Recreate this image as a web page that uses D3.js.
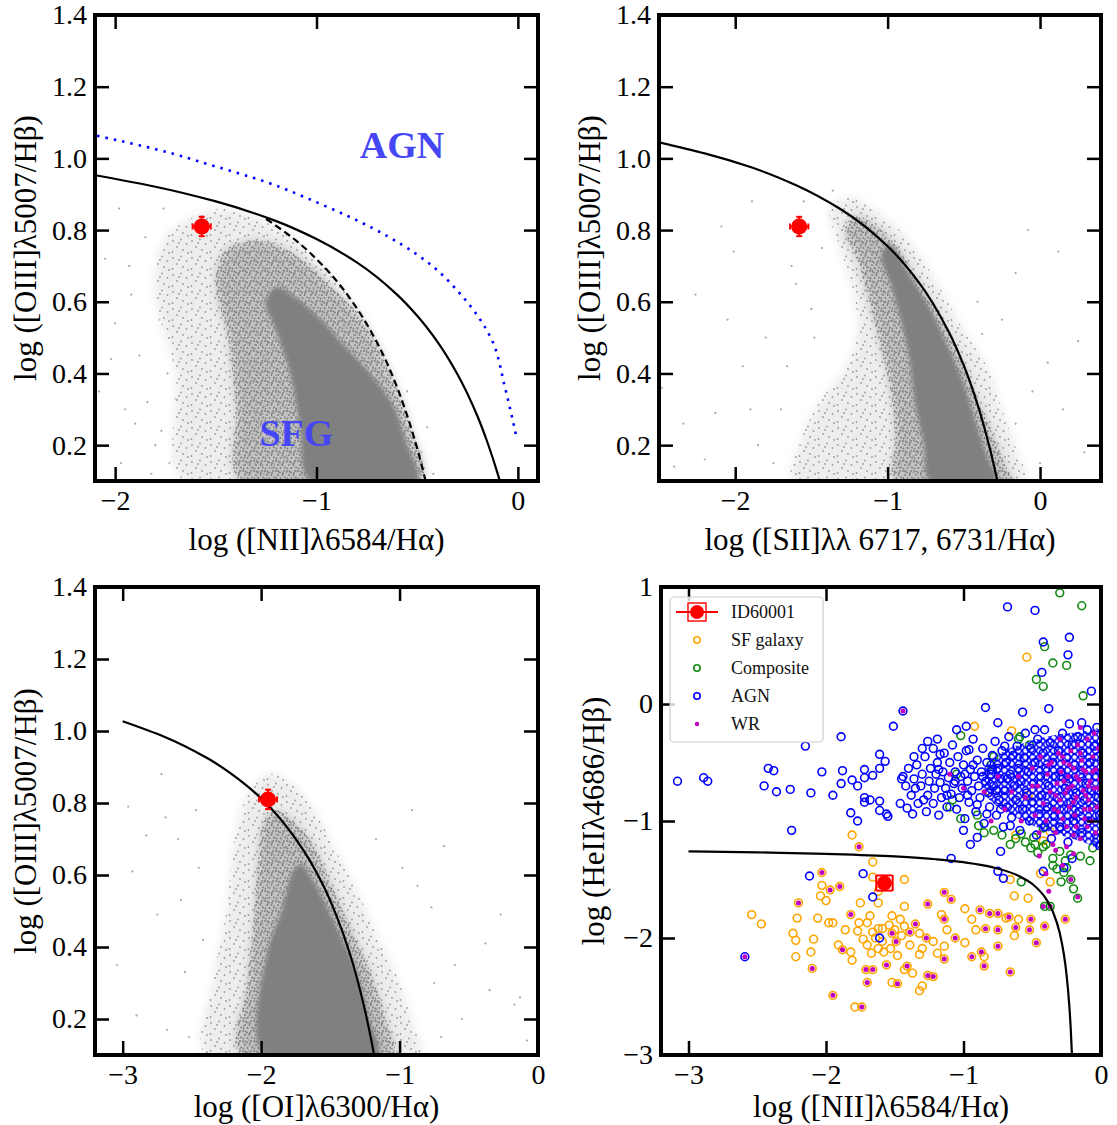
<!DOCTYPE html>
<html lang="en">
<head>
<meta charset="UTF-8">
<title>BPT and HeII diagrams</title>
<script src="https://d3js.org/d3.v7.min.js"></script>
<style>
  body { margin: 0; background: #fff; overflow: hidden; }
  text { font-family: "Liberation Serif", "Times New Roman", serif; }
</style>
</head>
<body>
<svg class="fig"></svg>
<script>
// ---------------- data ----------------
const o3Ticks = [0.2, 0.4, 0.6, 0.8, 1.0, 1.2, 1.4];
const niiTicks = [-2, -1, 0];
const siiTicks = [-2, -1, 0];
const oiTicks = [-3, -2, -1, 0];
const heTicksX = [-3, -2, -1, 0];
const heTicksY = [1, 0, -1, -2, -3];

// demarcation curves
const niiKewley = [[-2.1,0.953],[-1.8,0.921],[-1.5,0.880],[-1.2,0.825],[-1.0,0.775],[-0.8,0.710],[-0.6,0.620],[-0.5,0.561],[-0.4,0.489],[-0.3,0.398],[-0.2,0.280],[-0.15,0.206],[-0.1,0.120],[-0.09,0.101]];
const niiKauff = [[-1.25,0.831],[-1.1,0.770],[-1.0,0.719],[-0.9,0.658],[-0.8,0.582],[-0.7,0.487],[-0.6,0.362],[-0.55,0.283],[-0.5,0.191],[-0.46,0.104]];
const niiDotted = [[-2.09,1.063],[-1.78,1.023],[-1.51,0.979],[-1.25,0.934],[-0.985,0.874],[-0.72,0.805],[-0.45,0.711],[-0.28,0.618],[-0.134,0.499],[-0.064,0.361],[-0.01,0.23]];
const siiKewley = [[-2.5,1.045],[-2.2,1.014],[-1.9,0.976],[-1.6,0.925],[-1.3,0.856],[-1.0,0.755],[-0.8,0.657],[-0.6,0.517],[-0.5,0.422],[-0.4,0.300],[-0.35,0.225],[-0.3,0.139],[-0.28,0.10]];
const oiKewley = [[-3.0,1.027],[-2.7,0.984],[-2.4,0.927],[-2.1,0.847],[-1.9,0.773],[-1.7,0.672],[-1.55,0.570],[-1.45,0.481],[-1.35,0.370],[-1.3,0.302],[-1.25,0.224],[-1.2,0.133],[-1.184,0.10]];
const heiiLine = [[-3,-1.259],[-2.5,-1.268],[-2,-1.281],[-1.5,-1.303],[-1.2,-1.327],[-1,-1.352],[-0.8,-1.392],[-0.6,-1.468],[-0.5,-1.538],[-0.4,-1.665],[-0.35,-1.775],[-0.3,-1.957],[-0.27,-2.139],[-0.25,-2.319],[-0.23,-2.587],[-0.22,-2.778],[-0.21,-3.03]];

// galaxy cloud density outlines (light, medium, solid) and scattered points
const niiHalo = [[-1.66,0.1],[-1.7,0.4],[-1.8,0.62],[-1.76,0.77],[-1.6,0.84],[-1.45,0.86],[-1.28,0.83],[-1.1,0.77],[-1.0,0.72],[-0.9,0.66],[-0.8,0.58],[-0.7,0.49],[-0.6,0.36],[-0.5,0.19],[-0.46,0.1]];
const niiMid = [[-1.38,0.1],[-1.4,0.3],[-1.44,0.5],[-1.5,0.65],[-1.46,0.74],[-1.32,0.77],[-1.2,0.76],[-1.05,0.71],[-0.92,0.64],[-0.8,0.57],[-0.7,0.48],[-0.61,0.37],[-0.54,0.26],[-0.48,0.1]];
const niiCore = [[-1.03,0.1],[-1.08,0.25],[-1.13,0.4],[-1.2,0.52],[-1.25,0.6],[-1.2,0.64],[-1.1,0.61],[-0.98,0.55],[-0.85,0.47],[-0.72,0.39],[-0.62,0.31],[-0.55,0.2],[-0.5,0.1]];
const niiSparse = [[-2.05,0.72],[-2.0,0.54],[-1.98,0.86],[-1.95,0.3],[-1.92,0.62],[-1.9,0.26],[-1.88,0.45],[-1.85,0.78],[-1.84,0.32],[-1.8,0.2],[-1.78,0.55],[-1.76,0.86],[-1.74,0.4],[-1.73,0.15],[-1.72,0.68],[-1.7,0.33],[-1.68,0.5],[-1.66,0.2],[-1.65,0.77],[-1.63,0.6],[-1.61,0.28],[-1.6,0.42],[-1.57,0.12],[-1.56,0.7],[-1.54,0.36],[-1.52,0.55],[-1.5,0.2],[-1.48,0.8],[-1.46,0.45],[-1.44,0.28],[-1.42,0.62],[-1.4,0.15],[-1.38,0.4],[-1.36,0.8],[-1.33,0.22],[-1.3,0.58],[-1.27,0.33],[-1.22,0.79],[-1.18,0.16],[-1.15,0.7],[-1.1,0.74],[-0.95,0.68],[-0.85,0.6],[-0.75,0.52],[-0.45,0.25],[-0.42,0.12],[-0.55,0.35],[-0.48,0.18],[-2.08,0.35],[-1.97,0.15],[-2.02,0.44],[-1.93,0.7],[-1.82,0.12],[-1.77,0.24],[-1.69,0.62],[-1.62,0.15],[-1.58,0.52],[-1.53,0.78]];
const siiHalo = [[-1.62,0.1],[-1.58,0.2],[-1.45,0.32],[-1.3,0.4],[-1.2,0.5],[-1.22,0.62],[-1.32,0.76],[-1.38,0.86],[-1.25,0.89],[-1.1,0.86],[-0.9,0.79],[-0.7,0.67],[-0.5,0.52],[-0.35,0.42],[-0.25,0.3],[-0.15,0.18],[-0.1,0.1]];
const siiMid = [[-0.95,0.1],[-0.95,0.22],[-0.98,0.35],[-1.05,0.48],[-1.12,0.6],[-1.2,0.72],[-1.28,0.8],[-1.22,0.84],[-1.1,0.82],[-0.95,0.76],[-0.8,0.66],[-0.65,0.55],[-0.5,0.43],[-0.4,0.32],[-0.3,0.22],[-0.2,0.12],[-0.17,0.1]];
const siiCore = [[-0.72,0.1],[-0.76,0.2],[-0.82,0.32],[-0.86,0.45],[-0.92,0.56],[-0.98,0.65],[-1.04,0.73],[-0.98,0.76],[-0.88,0.69],[-0.72,0.58],[-0.6,0.47],[-0.5,0.37],[-0.42,0.26],[-0.35,0.17],[-0.29,0.1]];
const siiSparse = [[-2.09,0.81],[-2.01,0.74],[-2.26,0.62],[-2.48,0.36],[-2.34,0.26],[-2.13,0.29],[-1.89,0.88],[-1.63,0.70],[-1.6,0.65],[-1.43,0.75],[-1.36,0.91],[-1.8,0.5],[-1.95,0.42],[-1.7,0.3],[-2.2,0.16],[-1.85,0.2],[-1.5,0.58],[-2.4,0.14],[-0.08,0.80],[0.12,0.74],[-0.16,0.68],[0.25,0.49],[0.05,0.43],[-0.16,0.26],[0.29,0.18],[-0.41,0.60],[-0.38,0.51],[-0.29,0.29],[0.0,0.15],[-0.05,0.35],[0.15,0.3],[-0.25,0.55],[-1.75,0.15],[-1.9,0.3],[-1.66,0.42],[-1.48,0.5],[-1.55,0.88],[-2.05,0.55]];
const oiHalo = [[-2.4,0.1],[-2.35,0.3],[-2.25,0.5],[-2.2,0.68],[-2.1,0.82],[-1.95,0.88],[-1.8,0.86],[-1.62,0.78],[-1.45,0.66],[-1.3,0.55],[-1.15,0.42],[-1.0,0.3],[-0.9,0.18],[-0.85,0.1]];
const oiMid = [[-2.15,0.1],[-2.1,0.3],[-2.05,0.5],[-2.02,0.65],[-1.98,0.75],[-1.9,0.78],[-1.8,0.76],[-1.65,0.7],[-1.5,0.58],[-1.35,0.45],[-1.2,0.32],[-1.1,0.2],[-1.05,0.1]];
const oiCore = [[-1.98,0.1],[-1.95,0.39],[-1.85,0.5],[-1.78,0.6],[-1.72,0.63],[-1.62,0.58],[-1.45,0.45],[-1.31,0.33],[-1.22,0.2],[-1.16,0.1]];
const oiSparse = [[-2.72,0.88],[-2.96,0.79],[-2.83,0.71],[-2.93,0.61],[-3.04,0.35],[-2.9,0.21],[-2.69,0.76],[-2.47,0.78],[-2.58,0.53],[-2.75,0.49],[-2.68,0.17],[-2.32,0.25],[-2.55,0.33],[-2.45,0.62],[-0.38,0.41],[-0.27,0.49],[-0.17,0.24],[-0.35,0.28],[-0.13,0.26],[-0.6,0.35],[-0.68,0.68],[-0.91,0.78],[-0.77,0.51],[-1.17,0.70],[-0.87,0.57],[-0.08,0.14],[-0.55,0.2],[-0.75,0.3],[-2.6,0.7],[-2.52,0.15],[-2.42,0.42],[-0.98,0.62],[-0.7,0.15]];

// the object ID60001: x, y, xerr, yerr
const niiObj = [-1.57, 0.81, 0.045, 0.027];
const siiObj = [-1.58, 0.81, 0.06, 0.027];
const oiObj = [-1.95, 0.81, 0.065, 0.027];
const heObj = [-1.575, -1.53, 0.06, 0.065];

// HeII diagram samples
const sfGal = [[-0.54,0.40],[-0.92,-0.19],[-0.65,-0.23],[-0.81,-0.75],[-0.53,-0.78],[-0.37,-1.09],[-0.62,-1.12],[-0.42,-1.17],[-1.81,-1.12],[-1.76,-1.22],[-1.66,-1.35],[-1.66,-1.48],[-1.43,-1.50],[-1.62,-1.60],[-1.62,-1.70],[-0.66,-1.50],[-0.63,-1.64],[-0.53,-1.66],[-0.44,-1.45],[-0.37,-1.52],[-2.03,-1.44],[-2.03,-1.55],[-2.04,-1.64],[-2.00,-1.68],[-1.97,-1.59],[-1.90,-1.56],[-2.20,-1.70],[-2.21,-1.83],[-2.06,-1.83],[-1.98,-1.87],[-1.95,-1.87],[-2.54,-1.80],[-2.47,-1.88],[-2.24,-1.96],[-2.22,-2.02],[-2.09,-2.01],[-2.22,-2.16],[-2.11,-2.12],[-2.10,-2.26],[-1.95,-2.49],[-1.79,-2.59],[-1.74,-2.59],[-1.86,-1.93],[-1.82,-1.80],[-1.76,-1.87],[-1.75,-1.70],[-1.68,-1.81],[-1.91,-2.06],[-1.88,-2.10],[-1.82,-2.12],[-1.81,-2.19],[-1.77,-1.94],[-1.73,-2.01],[-1.70,-2.06],[-1.71,-2.27],[-1.66,-2.27],[-1.70,-2.38],[-1.64,-2.00],[-1.59,-1.92],[-1.52,-1.96],[-1.58,-2.12],[-1.56,-2.23],[-1.52,-1.81],[-1.46,-1.84],[-1.43,-1.73],[-1.43,-1.90],[-1.39,-1.95],[-1.39,-2.06],[-1.49,-2.03],[-1.48,-2.15],[-1.43,-2.27],[-1.52,-2.38],[-1.48,-2.39],[-1.41,-2.24],[-1.37,-2.30],[-1.32,-2.45],[-1.30,-2.41],[-1.32,-2.14],[-1.35,-1.88],[-1.32,-1.96],[-1.30,-2.09],[-1.27,-2.00],[-1.22,-2.03],[-1.26,-2.32],[-1.22,-2.33],[-1.26,-1.71],[-1.19,-2.13],[-1.14,-2.07],[-1.16,-1.80],[-1.14,-1.84],[-1.12,-1.93],[-1.14,-2.18],[-1.14,-1.61],[-1.09,-1.67],[-1.06,-2.00],[-0.99,-1.75],[-0.99,-2.04],[-0.94,-1.84],[-0.94,-2.16],[-0.91,-1.93],[-0.87,-2.12],[-0.85,-2.16],[-0.85,-2.24],[-0.88,-1.76],[-0.84,-1.92],[-0.81,-1.79],[-0.75,-1.79],[-0.75,-1.93],[-0.75,-2.07],[-0.69,-1.83],[-0.67,-1.82],[-0.62,-1.91],[-0.60,-1.84],[-0.63,-1.98],[-0.66,-2.29],[-0.52,-1.93],[-0.51,-1.84],[-0.47,-2.04],[-0.41,-1.90],[-0.26,-1.84],[-1.66,-1.95],[-1.62,-1.92],[-1.59,-2.03],[-1.54,-1.89],[-1.50,-1.93],[-1.45,-1.98],[-1.62,-2.09],[-1.67,-2.13],[-1.53,-2.09],[-1.70,-1.87]];
const composite = [[-0.30,0.95],[-0.14,0.84],[-0.41,0.49],[-0.35,0.35],[-0.25,0.33],[-0.47,0.21],[-0.42,0.15],[-0.13,0.07],[-1.02,-0.27],[-0.59,-0.28],[-0.78,-0.45],[-0.51,-1.23],[-0.46,-1.27],[-0.40,-1.20],[-0.35,-1.32],[-0.30,-1.26],[-0.26,-1.34],[-0.22,-1.29],[-0.08,-1.34],[-0.32,-1.41],[-0.27,-1.44],[-0.22,-1.50],[-0.29,-1.52],[-0.58,-1.52],[-0.20,-1.58],[-0.17,-1.66],[-0.41,-1.73],[-0.37,-1.73],[-0.66,-1.20],[-0.72,-1.12],[-0.78,-1.08],[-0.89,-1.04],[-1.02,-0.98],[-1.08,-0.82],[-0.06,-1.23],[-0.58,-1.11],[-0.49,-1.14],[-0.42,-1.06],[-1.10,-0.88],[-0.90,-0.95],[-0.85,-1.10],[-0.62,-1.15],[-0.55,-1.18],[-0.48,-1.20],[-1.05,-0.60],[-0.80,-0.52],[-0.60,-0.30],[-0.52,-0.35],[-0.42,-1.22],[-0.35,-1.38],[-0.25,-1.40],[-0.15,-1.30]];
const agn = [[-0.68,0.83],[-0.48,0.80],[-0.42,0.53],[-0.23,0.57],[-0.24,0.42],[-0.43,0.27],[-0.07,0.11],[-1.44,-0.06],[-0.84,-0.03],[-0.57,-0.07],[-0.38,-0.04],[-1.51,-0.19],[-1.89,-0.28],[-2.15,-0.36],[-2.42,-0.55],[-2.38,-0.57],[-3.08,-0.66],[-2.89,-0.63],[-2.86,-0.66],[-2.45,-0.70],[-2.36,-0.75],[-2.26,-0.73],[-2.03,-0.58],[-2.11,-0.76],[-1.95,-0.78],[-1.88,-0.57],[-1.89,-0.68],[-1.81,-0.65],[-1.77,-0.70],[-1.72,-0.56],[-1.72,-0.63],[-1.66,-0.61],[-1.61,-0.55],[-1.57,-0.49],[-1.61,-0.43],[-1.72,-0.80],[-1.72,-0.84],[-1.68,-0.82],[-1.61,-0.83],[-1.82,-0.93],[-1.77,-1.00],[-1.61,-0.91],[-1.56,-0.94],[-1.55,-0.96],[-2.25,-1.08],[-1.46,-0.85],[-1.41,-0.89],[-1.37,-0.94],[-1.45,-0.64],[-1.36,-0.45],[-1.30,-0.38],[-1.26,-0.32],[-1.19,-0.30],[-1.17,-0.43],[-1.05,-0.22],[-0.98,-0.19],[-0.96,-0.39],[-1.09,-1.32],[-0.75,-0.16],[-0.48,-0.22],[-0.41,-0.22],[-0.23,-0.17],[-0.14,-0.16],[-0.03,-0.20],[-0.75,-1.43],[-0.71,-1.49],[-0.73,-1.26],[-0.95,-1.20],[-0.90,-1.14],[-1.00,-1.08],[-1.66,-1.65],[-1.73,-1.45],[-2.12,-1.47],[-0.42,-1.43],[-0.27,-1.40],[-0.21,-1.32],[-0.01,-1.21],[-2.59,-2.16],[-1.61,-2.00],
  [-1.44,-0.62],[-1.42,-0.7],[-1.4,-0.55],[-1.38,-0.78],[-1.36,-0.64],[-1.34,-0.52],[-1.33,-0.85],[-1.31,-0.7],[-1.3,-0.6],[-1.28,-0.45],[-1.27,-0.92],[-1.26,-0.78],[-1.25,-0.66],[-1.24,-0.55],[-1.22,-0.38],[-1.22,-0.85],[-1.21,-0.72],[-1.2,-0.6],
  [-1.19,-0.5],[-1.18,-0.95],[-1.17,-0.67],[-1.16,-0.8],[-1.15,-0.58],[-1.14,-0.42],[-1.13,-0.72],[-1.12,-0.88],[-1.11,-0.63],[-1.1,-0.5],[-1.09,-0.77],[-1.08,-0.35],[-1.07,-0.68],[-1.06,-0.58],[-1.05,-0.9],[-1.04,-0.45],[-1.03,-0.8],[-1.02,-0.62],[-1.01,-0.72],[-1.0,-0.52],
  [-0.99,-0.98],[-0.98,-0.4],[-0.97,-0.66],[-0.96,-0.84],[-0.95,-0.56],[-0.94,-0.74],[-0.93,-0.3],[-0.92,-0.62],[-0.91,-0.92],[-0.9,-0.48],[-0.89,-0.7],[-0.88,-0.8],[-0.87,-0.58],[-0.86,-0.38],[-0.85,-1.02],[-0.84,-0.66],[-0.83,-0.5],[-0.82,-0.76],[-0.81,-0.88],[-0.8,-0.6],
  [-0.79,-0.44],[-0.78,-0.7],[-0.77,-0.32],[-0.76,-0.95],[-0.75,-0.55],[-0.74,-0.82],[-0.73,-0.64],[-0.72,-0.4],[-0.71,-1.05],[-0.7,-0.74],[-0.69,-0.5],[-0.68,-0.88],[-0.67,-0.28],[-0.66,-0.6],[-0.65,-0.97],[-0.64,-0.44],[-0.63,-0.7],[-0.62,-0.82],[-0.61,-0.36],[-0.6,-0.55],
  [-0.59,-1.08],[-0.58,-0.66],[-0.57,-0.9],[-0.56,-0.46],[-0.55,-0.25],[-0.54,-0.76],[-0.53,-0.58],[-0.52,-1.0],[-0.51,-0.38],[-0.5,-0.84],[-0.49,-0.68],[-0.48,-0.5],[-0.47,-1.12],[-0.46,-0.3],[-0.45,-0.94],[-0.44,-0.62],[-0.43,-0.78],[-0.42,-0.42],[-0.41,-1.05],[-0.4,-0.55],
  [-0.39,-0.88],[-0.38,-0.7],[-0.37,-0.33],[-0.36,-1.15],[-0.35,-0.5],[-0.34,-0.96],[-0.33,-0.62],[-0.32,-0.8],[-0.31,-0.4],[-0.3,-1.05],[-0.29,-0.58],[-0.28,-0.25],[-0.27,-0.9],[-0.26,-0.72],[-0.25,-0.46],[-0.24,-1.18],[-0.23,-0.64],[-0.22,-0.84],[-0.21,-0.35],[-0.2,-1.0],
  [-0.19,-0.52],[-0.18,-0.76],[-0.17,-0.28],[-0.16,-0.92],[-0.15,-0.6],[-0.14,-1.1],[-0.13,-0.42],[-0.12,-0.82],[-0.11,-0.68],[-0.1,-0.22],[-0.09,-1.0],[-0.08,-0.5],[-0.07,-0.74],[-0.06,-0.88],[-0.05,-0.36],[-0.04,-0.62],[-0.03,-1.15],[-0.02,-0.45],[-0.02,-0.8],[-0.01,-0.95],
  [-1.35,-0.72],[-1.29,-0.82],[-1.18,-0.56],[-1.12,-0.78],[-1.06,-0.66],[-0.99,-0.6],[-0.97,-0.78],[-0.93,-0.52],[-0.9,-0.86],[-0.86,-0.62],[-0.83,-0.94],[-0.79,-0.56],[-0.76,-0.74],[-0.73,-0.9],[-0.7,-0.36],[-0.68,-0.64],[-0.66,-1.04]];
// outline of the crowded AGN region (too packed to separate single rings)
const agnCrowd = [[-0.85,-0.55],[-0.7,-0.4],[-0.55,-0.33],[-0.4,-0.28],[-0.25,-0.25],[-0.1,-0.23],[0.02,-0.22],[0.02,-1.22],[-0.15,-1.17],[-0.3,-1.12],[-0.45,-1.06],[-0.6,-0.98],[-0.75,-0.88],[-0.85,-0.75]];
const wr = [[-1.44,-0.06],[-2.59,-2.16],[-2.03,-1.44],[-1.97,-1.59],[-1.90,-1.56],[-2.20,-1.70],[-2.10,-2.26],[-1.95,-2.49],[-1.74,-2.59],[-1.82,-1.80],[-1.88,-2.10],[-1.71,-2.27],[-1.66,-2.27],[-1.70,-2.38],[-1.52,-1.96],[-1.56,-2.23],[-1.39,-1.95],[-1.49,-2.03],[-1.48,-2.39],[-1.41,-2.24],[-1.35,-1.88],[-1.27,-2.00],[-1.26,-2.32],[-1.22,-2.33],[-1.26,-1.71],[-1.14,-1.84],[-1.14,-2.18],[-1.14,-1.61],[-1.09,-1.67],[-1.06,-2.00],[-0.94,-2.16],[-0.87,-2.12],[-0.85,-2.24],[-0.88,-1.76],[-0.84,-1.92],[-0.81,-1.79],[-0.75,-1.79],[-0.75,-1.93],[-0.75,-2.07],[-0.67,-1.82],[-0.62,-1.91],[-0.66,-2.29],[-0.52,-1.93],[-0.51,-1.84],[-0.47,-2.04],[-0.41,-1.90],[-0.26,-1.84],[-1.76,-1.22],
  [-0.6,-0.62],[-0.55,-0.8],[-0.5,-0.55],[-0.48,-0.95],[-0.46,-0.7],[-0.44,-0.45],[-0.42,-0.85],[-0.4,-1.0],[-0.39,-0.6],[-0.37,-0.75],[-0.36,-0.5],[-0.34,-0.9],[-0.33,-1.1],[-0.32,-0.68],[-0.31,-0.42],[-0.3,-0.82],[-0.29,-0.58],[-0.28,-0.98],[-0.27,-0.5],[-0.26,-0.76],[-0.25,-1.05],[-0.24,-0.62],[-0.23,-0.88],[-0.22,-0.4],[-0.21,-0.7],[-0.2,-0.55],[-0.19,-0.95],[-0.18,-0.8],[-0.17,-0.35],[-0.16,-0.65],[-0.15,-1.15],[-0.14,-0.48],[-0.13,-0.74],[-0.12,-0.9],[-0.11,-0.58],[-0.1,-0.3],[-0.09,-0.82],[-0.08,-0.66],[-0.07,-1.0],[-0.06,-0.45],[-0.05,-0.72],[-0.04,-0.56],[-0.03,-0.88],[-0.02,-0.38],[-0.01,-0.64],[-0.35,-1.2],[-0.25,-1.22],[-0.45,-1.1],[-0.2,-1.12],[-0.1,-1.05],[-0.5,-0.7],[-0.58,-1.0],[-0.65,-0.75],[-0.7,-0.9],[-0.75,-0.62],[-0.8,-1.0],[-0.85,-0.75],[-1.0,-0.72],[-1.1,-0.6],[-0.3,-0.3],[-0.15,-0.2],[-0.05,-0.25],
  [-0.45,-1.3],[-0.4,-1.45],[-0.33,-1.25],[-0.28,-1.38],[-0.22,-1.5],[-0.2,-1.28],[-0.38,-1.6],[-0.42,-1.73],[-0.37,-1.73],[-0.17,-1.65],
  [-0.38,-0.52],[-0.33,-0.78],[-0.27,-0.66],[-0.23,-0.52],[-0.18,-0.62],[-0.13,-0.56],[-0.09,-0.7],[-0.06,-0.58],[-0.02,-0.72],[-0.12,-0.98],[-0.2,-0.84],[-0.28,-0.45],
  [-0.15,-0.42],[-0.08,-0.9],[-0.04,-1.1],[-0.18,-1.05],[-0.24,-0.72],[-0.11,-0.78],[-0.31,-0.92]];

const legendNames = ["ID60001", "SF galaxy", "Composite", "AGN", "WR"];

// ---------------- drawing ----------------
const svg = d3.select(".fig").attr("width", 1117).attr("height", 1125).attr("viewBox", "0 0 1117 1125");
const defs = svg.append("defs");
function addBlur(id, sd) {
  defs.append("filter").attr("id", id).attr("filterUnits", "userSpaceOnUse")
    .attr("x", -50).attr("y", -50).attr("width", 1300).attr("height", 1300)
    .append("feGaussianBlur").attr("stdDeviation", sd);
}
addBlur("soft", 4);
addBlur("softer", 2);

// speckle textures for the less crowded parts of the galaxy clouds
function speckle(id, w, h, pts, col) {
  const p = defs.append("pattern").attr("id", id).attr("patternUnits", "userSpaceOnUse").attr("width", w).attr("height", h);
  pts.forEach(([cx, cy]) => p.append("circle").attr("cx", cx).attr("cy", cy).attr("r", 0.9).attr("fill", col));
}
speckle("speckLight", 19, 17, [[2,3],[10,1.5],[15.5,6],[6,9],[12,12],[1.5,14],[17,15],[8,5]], "#9c9c9c");
speckle("speckMid", 11, 10, [[1,1],[5,2.5],[9,1],[3,5],[7.5,5],[10,7.5],[1.5,8.5],[5.5,8],[8,3],[3.5,1.5]], "#7c7c7c");

const pat = defs.append("pattern").attr("id", "agnRings").attr("patternUnits", "userSpaceOnUse")
  .attr("width", 7).attr("height", 6.5);
pat.append("circle").attr("cx", 3.5).attr("cy", 3.25).attr("r", 2.9)
  .attr("fill", "none").attr("stroke", "#0000ff").attr("stroke-width", 1.4);

const fmt1 = d3.format(".1f");
const fmtInt = d3.format("d");
const RED = "#ff0000";

const panels = [
  { id: "nii", box: [95, 15, 538, 481], xDom: [-2.1, 0.1], yDom: [0.1, 1.4], xTicks: niiTicks, yTicks: o3Ticks, yFmt: fmt1,
    xLabel: "log ([NII]λ6584/Hα)", yLabel: "log ([OIII]λ5007/Hβ)", labelDy: 69,
    halo: niiHalo, mid: niiMid, core: niiCore, sparse: niiSparse, obj: niiObj,
    lines: [{ d: niiKauff, dash: "7,4", color: "#000" }, { d: niiKewley, color: "#000" }, { d: niiDotted, dash: "2.5,6", color: "#0000ff", w: 2.6 }] },
  { id: "sii", box: [659, 15, 1101, 481], xDom: [-2.5, 0.4], yDom: [0.1, 1.4], xTicks: siiTicks, yTicks: o3Ticks, yFmt: fmt1,
    xLabel: "log ([SII]λλ 6717, 6731/Hα)", yLabel: "log ([OIII]λ5007/Hβ)", labelDy: 69,
    halo: siiHalo, mid: siiMid, core: siiCore, sparse: siiSparse, obj: siiObj,
    lines: [{ d: siiKewley, color: "#000" }] },
  { id: "oi", box: [95, 587, 538, 1055], xDom: [-3.2, 0], yDom: [0.1, 1.4], xTicks: oiTicks, yTicks: o3Ticks, yFmt: fmt1,
    xLabel: "log ([OI]λ6300/Hα)", yLabel: "log ([OIII]λ5007/Hβ)", labelDy: 62,
    halo: oiHalo, mid: oiMid, core: oiCore, sparse: oiSparse, obj: oiObj,
    lines: [{ d: oiKewley, color: "#000" }] },
  { id: "he", box: [661, 587, 1101, 1055], xDom: [-3.2, 0], yDom: [-3, 1], xTicks: heTicksX, yTicks: heTicksY, yFmt: fmtInt,
    xLabel: "log ([NII]λ6584/Hα)", yLabel: "log (HeIIλ4686/Hβ)", yLabelX: 604, labelDy: 62,
    lines: [{ d: heiiLine, color: "#000" }] }
];

function styleAxis(sel) {
  sel.select(".domain").remove();
  sel.attr("font-size", 28).attr("font-family", "Liberation Serif, serif");
  sel.selectAll(".tick line").attr("stroke", "#000").attr("stroke-width", 2.5);
  sel.selectAll(".tick text").attr("fill", "#000");
}

function drawObject(g, x, y, o, cap, r) {
  const cx = x(o[0]), cy = y(o[1]);
  const xa = x(o[0] - o[2]), xb = x(o[0] + o[2]);
  const ya = y(o[1] + o[3]), yb = y(o[1] - o[3]);
  const e = g.append("g").attr("stroke", RED).attr("stroke-width", 2);
  e.append("line").attr("x1", xa).attr("x2", xb).attr("y1", cy).attr("y2", cy);
  e.append("line").attr("x1", cx).attr("x2", cx).attr("y1", ya).attr("y2", yb);
  [xa, xb].forEach(v => e.append("line").attr("x1", v).attr("x2", v).attr("y1", cy - cap).attr("y2", cy + cap));
  [ya, yb].forEach(v => e.append("line").attr("y1", v).attr("y2", v).attr("x1", cx - cap).attr("x2", cx + cap));
  g.append("circle").attr("cx", cx).attr("cy", cy).attr("r", r).attr("fill", RED);
}

panels.forEach(p => {
  const [x0, y0, x1, y1] = p.box;
  const x = d3.scaleLinear().domain(p.xDom).range([x0, x1]);
  const y = d3.scaleLinear().domain(p.yDom).range([y1, y0]);
  const g = svg.append("g").attr("class", "panel-" + p.id);

  defs.append("clipPath").attr("id", "clip-" + p.id)
    .append("rect").attr("x", x0).attr("y", y0).attr("width", x1 - x0).attr("height", y1 - y0);
  const plot = g.append("g").attr("clip-path", `url(#clip-${p.id})`);

  const blob = d3.line().x(d => x(d[0])).y(d => y(d[1])).curve(d3.curveCatmullRomClosed);
  const curve = d3.line().x(d => x(d[0])).y(d => y(d[1])).curve(d3.curveMonotoneY);

  if (p.halo) {
    plot.selectAll("circle.sparse").data(p.sparse).join("circle").attr("class", "sparse")
      .attr("cx", d => x(d[0])).attr("cy", d => y(d[1])).attr("r", 1.1).attr("fill", "#a8a8a8");
    const dens = plot.append("g").attr("filter", "url(#soft)");
    dens.append("path").attr("d", blob(p.halo)).attr("fill", "#ededed");
    dens.append("path").attr("d", blob(p.mid)).attr("fill", "#c2c2c2");
    plot.append("path").attr("d", blob(p.halo)).attr("fill", "url(#speckLight)");
    plot.append("path").attr("d", blob(p.mid)).attr("fill", "url(#speckMid)");
    plot.append("path").attr("d", blob(p.core)).attr("fill", "#808080").attr("filter", "url(#softer)");
  }

  if (p.id === "nii") {
    plot.append("text").attr("x", x(-1.1)).attr("y", y(0.198)).attr("text-anchor", "middle")
      .attr("font-size", 38).attr("font-weight", "bold").attr("fill", "#4646f5").text("SFG");
    plot.append("text").attr("x", x(-0.575)).attr("y", y(1.0)).attr("text-anchor", "middle")
      .attr("font-size", 38).attr("font-weight", "bold").attr("fill", "#4646f5").text("AGN");
  }

  if (p.id === "he") {
    const ring = (data, col) => plot.append("g").selectAll("circle").data(data).join("circle")
      .attr("cx", d => x(d[0])).attr("cy", d => y(d[1])).attr("r", 3.9)
      .attr("fill", "none").attr("stroke", col).attr("stroke-width", 1.6);
    ring(sfGal, "#ffa500");
    ring(composite, "#138a13");
    plot.append("path").attr("d", blob(agnCrowd)).attr("fill", "url(#agnRings)");
    ring(agn, "#0000ff");
    plot.append("g").selectAll("circle").data(wr).join("circle")
      .attr("cx", d => x(d[0])).attr("cy", d => y(d[1])).attr("r", 2.5).attr("fill", "#bf00bf");
  }

  p.lines.forEach(l => {
    const curveFn = p.id === "he" ? d3.line().x(d => x(d[0])).y(d => y(d[1])).curve(d3.curveMonotoneX) : curve;
    plot.append("path").attr("d", curveFn(l.d)).attr("fill", "none")
      .attr("stroke", l.color).attr("stroke-width", l.w || 2.2)
      .attr("stroke-dasharray", l.dash || null);
  });

  if (p.obj) drawObject(plot, x, y, p.obj, 3, 8);
  if (p.id === "he") drawObject(plot, x, y, heObj, 8, 7.5);

  // axes, ticks pointing inwards on all four sides
  g.append("g").attr("transform", `translate(0,${y1})`)
    .call(d3.axisBottom(x).tickValues(p.xTicks).tickSize(-14).tickSizeOuter(0).tickPadding(9).tickFormat(fmtInt)).call(styleAxis);
  g.append("g").attr("transform", `translate(${x0},0)`)
    .call(d3.axisLeft(y).tickValues(p.yTicks).tickSize(-14).tickSizeOuter(0).tickPadding(8).tickFormat(p.yFmt)).call(styleAxis);
  g.append("g").attr("transform", `translate(0,${y0})`)
    .call(d3.axisTop(x).tickValues(p.xTicks).tickSize(-14).tickSizeOuter(0).tickFormat("")).call(styleAxis);
  g.append("g").attr("transform", `translate(${x1},0)`)
    .call(d3.axisRight(y).tickValues(p.yTicks).tickSize(-14).tickSizeOuter(0).tickFormat("")).call(styleAxis);

  g.append("rect").attr("x", x0).attr("y", y0).attr("width", x1 - x0).attr("height", y1 - y0)
    .attr("fill", "none").attr("stroke", "#000").attr("stroke-width", 4);

  g.append("text").attr("x", (x0 + x1) / 2).attr("y", y1 + p.labelDy).attr("text-anchor", "middle")
    .attr("font-size", 31).text(p.xLabel);
  const ly = p.yLabelX || (x0 - 59);
  g.append("text").attr("transform", `translate(${ly},${(y0 + y1) / 2}) rotate(-90)`)
    .attr("text-anchor", "middle").attr("font-size", 31).text(p.yLabel);

  if (p.id === "he") {
    // legend
    const lg = g.append("g");
    lg.append("rect").attr("x", 670).attr("y", 597).attr("width", 153).attr("height", 145).attr("rx", 4)
      .attr("fill", "#fff").attr("fill-opacity", 0.8).attr("stroke", "#cccccc").attr("stroke-width", 1.2);
    const rows = legendNames.map((n, i) => ({ n, cy: 612 + i * 28 }));
    const mx = 697;
    lg.append("line").attr("x1", 676).attr("x2", 718).attr("y1", rows[0].cy).attr("y2", rows[0].cy).attr("stroke", RED).attr("stroke-width", 2);
    lg.append("rect").attr("x", mx - 9).attr("y", rows[0].cy - 9).attr("width", 18).attr("height", 18)
      .attr("fill", "none").attr("stroke", RED).attr("stroke-width", 1.4);
    lg.append("circle").attr("cx", mx).attr("cy", rows[0].cy).attr("r", 7).attr("fill", RED);
    const cols = ["#ffa500", "#138a13", "#0000ff"];
    cols.forEach((c, i) => lg.append("circle").attr("cx", mx).attr("cy", rows[i + 1].cy).attr("r", 3.2)
      .attr("fill", "none").attr("stroke", c).attr("stroke-width", 1.6));
    lg.append("circle").attr("cx", mx).attr("cy", rows[4].cy).attr("r", 2.2).attr("fill", "#bf00bf");
    lg.selectAll("text.lab").data(rows).join("text").attr("class", "lab")
      .attr("x", 731).attr("y", d => d.cy).attr("dy", "0.35em").attr("font-size", 18).attr("fill", "#111").text(d => d.n);
  }
});
</script>
</body>
</html>
